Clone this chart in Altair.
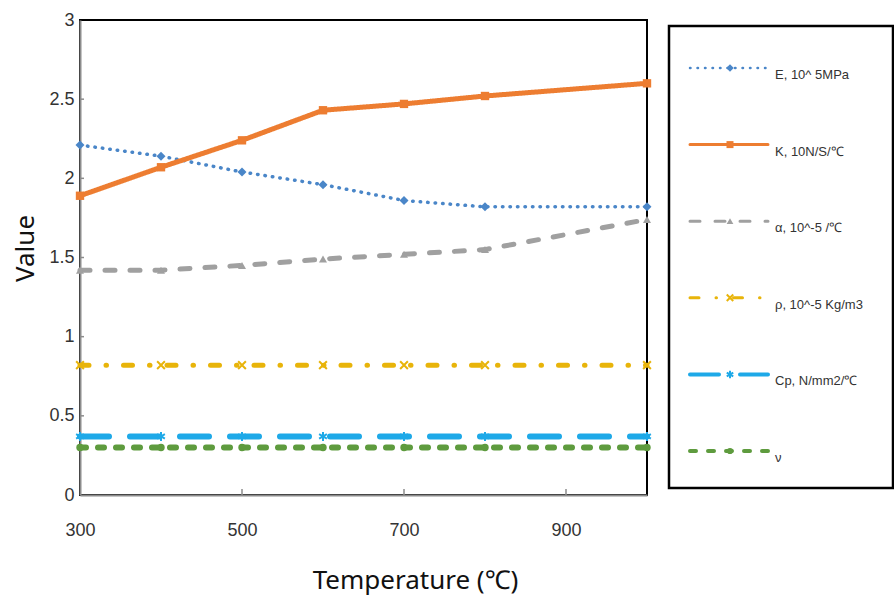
import altair as alt
import pandas as pd

# Temperature-dependent material properties
temperature = [300, 400, 500, 600, 700, 800, 1000]
e_values = [2.21, 2.14, 2.04, 1.96, 1.86, 1.82, 1.82]
k_values = [1.89, 2.07, 2.24, 2.43, 2.47, 2.52, 2.60]
alpha_values = [1.42, 1.42, 1.45, 1.49, 1.52, 1.55, 1.74]
rho_values = [0.82, 0.82, 0.82, 0.82, 0.82, 0.82, 0.82]
cp_values = [0.37, 0.37, 0.37, 0.37, 0.37, 0.37, 0.37]
nu_values = [0.30, 0.30, 0.30, 0.30, 0.30, 0.30, 0.30]

series_labels = [
    "E, 10^ 5MPa",
    "K, 10N/S/℃",
    "α, 10^-5  /℃",
    "ρ, 10^-5  Kg/m3",
    "Cp, N/mm2/℃",
    "ν",
]
series_values = [e_values, k_values, alpha_values, rho_values, cp_values, nu_values]

x_ticks = [300, 500, 700, 900]
y_ticks = [0, 0.5, 1, 1.5, 2, 2.5, 3]

X_PATH = "M-1,-1L1,1M-1,1L1,-1"
STAR_PATH = "M0,-1L0,1M-0.87,-0.5L0.87,0.5M-0.87,0.5L0.87,-0.5"

# line / marker styling for each series
styles = [
    dict(color="#4a86c8", dash=[0.5, 7], width=3.5, shape="diamond", filled=True, size=80),
    dict(color="#ed7d31", dash=[1, 0], width=5, shape="square", filled=True, size=70),
    dict(color="#a0a0a0", dash=[10, 15], width=5, shape="triangle-up", filled=True, size=65),
    dict(color="#e8b40a", dash=[9, 17, 0.5, 17], width=5, shape=X_PATH, filled=False, size=60),
    dict(color="#1ea9e8", dash=[29, 21], width=6, shape=STAR_PATH, filled=False, size=80),
    dict(color="#5e9b3e", dash=[6, 12], width=6, shape="circle", filled=True, size=55),
]

LABEL_FONT = "Liberation Sans"
TITLE_FONT = "Noto Sans"

x_scale = alt.Scale(domain=[300, 1000], nice=False, zero=False)
y_scale = alt.Scale(domain=[0, 3], nice=False)

x_axis = alt.Axis(
    values=x_ticks, title="Temperature (℃)", grid=False, ticks=False, labelFlush=False,
    labelFont=LABEL_FONT, labelFontSize=18, labelColor="#333333", labelPadding=26,
    domainColor="#8c8c8c", domainWidth=2,
    titleFont=TITLE_FONT, titleFontSize=26, titleFontWeight="normal", titleColor="#111111",
    titleX=335, titleY=93, titleBaseline="alphabetic",
)
y_axis = alt.Axis(
    values=y_ticks, format=".1~f", title="Value", grid=False, ticks=False, labelFlush=False,
    labelFont=LABEL_FONT, labelFontSize=18, labelColor="#333333", labelPadding=6,
    domainColor="#8c8c8c", domainWidth=2,
    titleFont=TITLE_FONT, titleFontSize=26, titleFontWeight="normal", titleColor="#111111",
    titleAngle=270, titleX=-55, titleY=228, titleBaseline="middle",
)

main_layers = []

# small inward tick marks on both axes
ytick_df = pd.DataFrame({"v": [t for t in y_ticks if 0 < t < 3]})
main_layers.append(
    alt.Chart(ytick_df).mark_rule(color="#8c8c8c", strokeWidth=1.5).encode(
        y=alt.Y("v:Q", scale=y_scale, axis=y_axis),
        x=alt.value(0), x2=alt.value(4),
    )
)
xtick_df = pd.DataFrame({"v": [t for t in x_ticks if t > 300]})
main_layers.append(
    alt.Chart(xtick_df).mark_rule(color="#8c8c8c", strokeWidth=1.5).encode(
        x=alt.X("v:Q", scale=x_scale, axis=x_axis),
        y=alt.value(475), y2=alt.value(469),
    )
)

legend_layers = []
legend_scale = alt.Scale(type="point", domain=series_labels, range=[48, 431], padding=0)

for label, vals, st in zip(series_labels, series_values, styles):
    df = pd.DataFrame({"Temperature": temperature, "Value": vals, "series": label})
    enc = dict(
        x=alt.X("Temperature:Q", scale=x_scale, axis=x_axis),
        y=alt.Y("Value:Q", scale=y_scale, axis=y_axis),
    )
    main_layers.append(
        alt.Chart(df).mark_line(
            color=st["color"], strokeDash=st["dash"], strokeWidth=st["width"], strokeCap="round"
        ).encode(**enc)
    )
    main_layers.append(
        alt.Chart(df).mark_point(
            shape=st["shape"], filled=st["filled"], color=st["color"], size=st["size"],
            opacity=1, strokeWidth=2,
        ).encode(**enc)
    )

    ldf = pd.DataFrame({"label": [label]})
    ly = alt.Y("label:N", scale=legend_scale, axis=None)
    legend_layers.append(
        alt.Chart(ldf).mark_rule(
            color=st["color"], strokeDash=st["dash"], strokeWidth=max(2.5, st["width"] - 2),
            strokeCap="round",
        ).encode(x=alt.value(610), x2=alt.value(688), y=ly)
    )
    legend_layers.append(
        alt.Chart(ldf).mark_point(
            shape=st["shape"], filled=st["filled"], color=st["color"], size=st["size"] * 0.7,
            opacity=1, strokeWidth=2,
        ).encode(x=alt.value(650), y=ly)
    )
    legend_layers.append(
        alt.Chart(ldf).mark_text(
            align="left", baseline="middle", dy=7, font=LABEL_FONT, fontSize=13, color="#333333"
        ).encode(x=alt.value(695), y=ly, text="label:N")
    )

# legend frame
legend_layers.append(
    alt.Chart(pd.DataFrame({"frame": [0]})).mark_rect(
        fillOpacity=0, stroke="black", strokeWidth=2.5
    ).encode(x=alt.value(589), x2=alt.value(813), y=alt.value(6), y2=alt.value(468))
)

chart = (
    alt.layer(alt.layer(*main_layers), alt.layer(*legend_layers))
    .resolve_scale(y="independent")
    .properties(
        width=567, height=475,
        autosize=alt.AutoSizeParams(type="none"),
        padding={"left": 80, "top": 20, "right": 247, "bottom": 104},
        background="white",
    )
    .configure_view(stroke="black", strokeWidth=2)
)

chart.save("out.html", embed_options={"renderer": "svg", "actions": False})
